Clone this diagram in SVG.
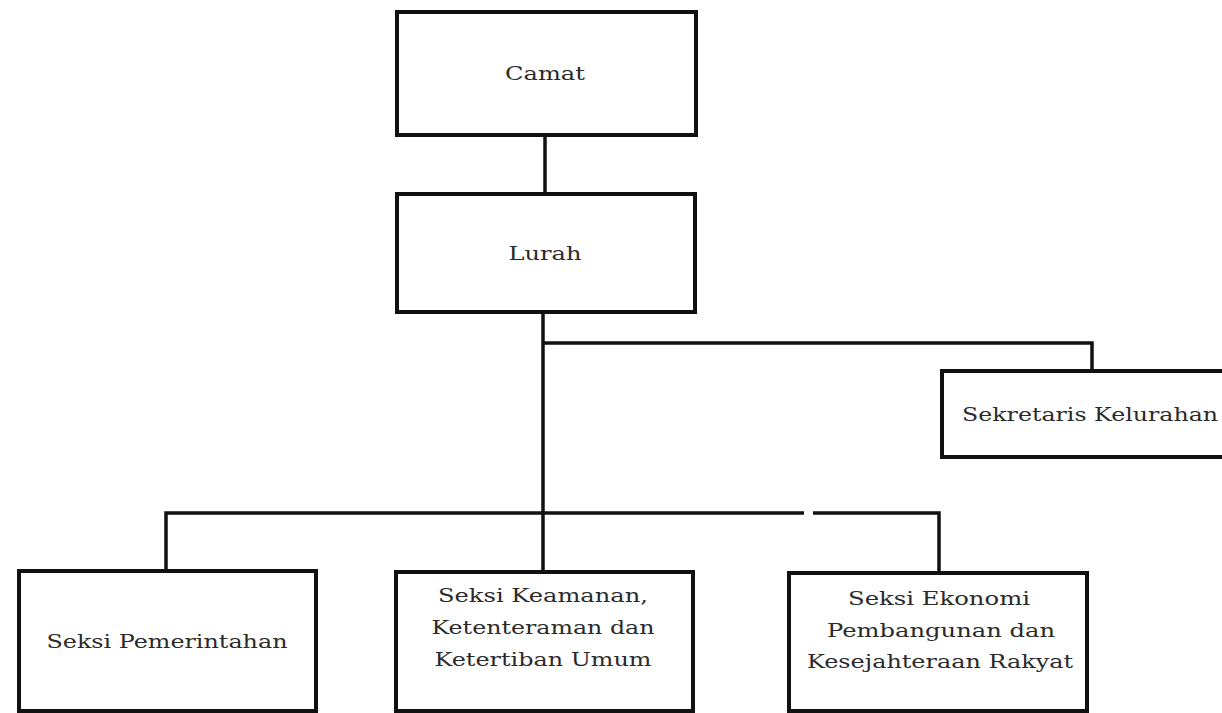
<svg xmlns="http://www.w3.org/2000/svg" width="1222" height="713" viewBox="0 0 1222 713">
<style>
.box{fill:#fff;stroke:#111;stroke-width:4}
.ln{fill:none;stroke:#111;stroke-width:3.5}
.t{font-family:"DejaVu Serif","Liberation Serif",serif;font-size:19px;fill:#2a2a2a;text-anchor:middle}
</style>
<rect width="1222" height="713" fill="#fff"/>
<g id="connectors">
<line class="ln" x1="545" y1="135" x2="545" y2="194"/>
<line class="ln" x1="543" y1="312" x2="543" y2="572"/>
<polyline class="ln" points="543,343 1092,343 1092,371"/>
<polyline class="ln" points="166,571 166,513 804,513"/>
<polyline class="ln" points="813,513 939,513 939,573"/>
</g>
<g id="camat">
<rect class="box" x="397" y="12" width="299" height="123"/>
<text class="t" x="545" y="80" textLength="80" lengthAdjust="spacingAndGlyphs">Camat</text>
</g>
<g id="lurah">
<rect class="box" x="397" y="194" width="298" height="118"/>
<text class="t" x="545" y="260" textLength="73" lengthAdjust="spacingAndGlyphs">Lurah</text>
</g>
<g id="sekretaris">
<rect class="box" x="942" y="371" width="300" height="86"/>
<text class="t" x="1090" y="421" textLength="256" lengthAdjust="spacingAndGlyphs">Sekretaris Kelurahan</text>
</g>
<g id="pemerintahan">
<rect class="box" x="19" y="571" width="297" height="140"/>
<text class="t" x="167" y="648" textLength="241" lengthAdjust="spacingAndGlyphs">Seksi Pemerintahan</text>
</g>
<g id="keamanan">
<rect class="box" x="396" y="572" width="297" height="139"/>
<text class="t" x="543" y="602" textLength="210" lengthAdjust="spacingAndGlyphs">Seksi Keamanan,</text>
<text class="t" x="543" y="634" textLength="223" lengthAdjust="spacingAndGlyphs">Ketenteraman dan</text>
<text class="t" x="543" y="666" textLength="217" lengthAdjust="spacingAndGlyphs">Ketertiban Umum</text>
</g>
<g id="ekonomi">
<rect class="box" x="789" y="573" width="298" height="138"/>
<text class="t" x="939" y="605" textLength="182" lengthAdjust="spacingAndGlyphs">Seksi Ekonomi</text>
<text class="t" x="941" y="637" textLength="228" lengthAdjust="spacingAndGlyphs">Pembangunan dan</text>
<text class="t" x="940" y="668" textLength="266" lengthAdjust="spacingAndGlyphs">Kesejahteraan Rakyat</text>
</g>
</svg>
